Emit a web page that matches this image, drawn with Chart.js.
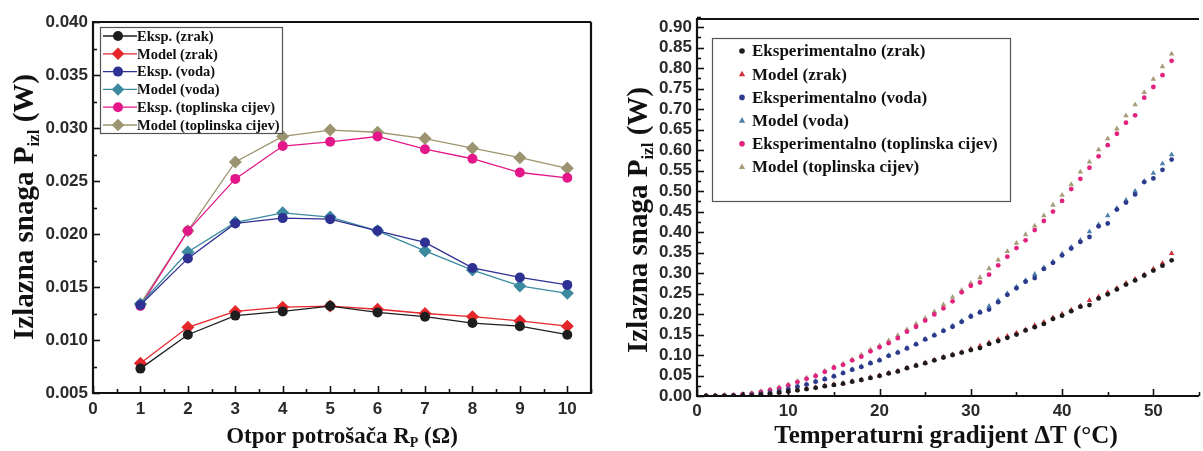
<!DOCTYPE html>
<html>
<head>
<meta charset="utf-8">
<script src="https://cdn.jsdelivr.net/npm/chart.js@4.4.1/dist/chart.umd.min.js"></script>
<style>
  body { margin: 0; background: #fff; overflow: hidden; }
  #left { position: absolute; left: 0; top: 0; }
  #right { position: absolute; left: 600px; top: 0; }
</style>
</head>
<body>
<canvas id="left" width="600" height="451"></canvas>
<canvas id="right" width="603" height="451"></canvas>
<script>
// Left chart: output power vs load resistance
const rp = [1, 2, 3, 4, 5, 6, 7, 8, 9, 10];
const ekspZrak = [0.0073, 0.0105, 0.0123, 0.0127, 0.0132, 0.0126, 0.0122, 0.0116, 0.0113, 0.0105];
const modelZrak = [0.0078, 0.0112, 0.0127, 0.0131, 0.0132, 0.0129, 0.0125, 0.0122, 0.0118, 0.0113];
const ekspVoda = [0.0133, 0.0177, 0.0210, 0.0215, 0.0214, 0.0203, 0.0192, 0.0168, 0.0159, 0.0152];
const modelVoda = [0.0134, 0.0183, 0.0211, 0.0220, 0.0216, 0.0203, 0.0184, 0.0166, 0.0151, 0.0144];
const ekspTopl = [0.0132, 0.0203, 0.0252, 0.0283, 0.0287, 0.0292, 0.0280, 0.0271, 0.0258, 0.0253];
const modelTopl = [0.0134, 0.0203, 0.0268, 0.0292, 0.0298, 0.0296, 0.0290, 0.0281, 0.0272, 0.0262];
const leftXTicks = [0, 1, 2, 3, 4, 5, 6, 7, 8, 9, 10];
const leftYTicks = [0.005, 0.010, 0.015, 0.020, 0.025, 0.030, 0.035, 0.040];

// Right chart: output power vs temperature gradient
const dT = [1, 2, 3, 4, 5, 6, 7, 8, 9, 10, 11, 12, 13, 14, 15, 16, 17, 18, 19, 20, 21, 22, 23, 24, 25, 26,
            27, 28, 29, 30, 31, 32, 33, 34, 35, 36, 37, 38, 39, 40, 41, 42, 43, 44, 45, 46, 47, 48, 49, 50, 51, 52];
const ekspZrakT = [0, 0, 0, 0, 0, 0.001, 0.003, 0.005, 0.008, 0.011, 0.014, 0.017, 0.020, 0.024, 0.027, 0.030, 0.035,
  0.039, 0.044, 0.049, 0.055, 0.060, 0.068, 0.074, 0.080, 0.087, 0.094, 0.100, 0.106, 0.112, 0.117, 0.127, 0.134,
  0.142, 0.150, 0.160, 0.168, 0.176, 0.188, 0.196, 0.207, 0.218, 0.222, 0.238, 0.248, 0.260, 0.272, 0.282, 0.294,
  0.306, 0.318, 0.331];
const modelZrakT = [0, 0, 0, 0, 0.001, 0.002, 0.004, 0.006, 0.009, 0.012, 0.015, 0.018, 0.021, 0.025, 0.028, 0.031,
  0.036, 0.040, 0.045, 0.050, 0.056, 0.061, 0.069, 0.075, 0.081, 0.088, 0.095, 0.101, 0.107, 0.115, 0.122, 0.130,
  0.138, 0.146, 0.154, 0.162, 0.172, 0.180, 0.191, 0.200, 0.210, 0.220, 0.233, 0.242, 0.253, 0.263, 0.275, 0.285,
  0.296, 0.310, 0.324, 0.348];
const ekspVodaT = [0, 0, 0, 0.001, 0.001, 0.003, 0.005, 0.008, 0.012, 0.017, 0.023, 0.028, 0.035, 0.041, 0.048, 0.056,
  0.064, 0.071, 0.080, 0.087, 0.098, 0.106, 0.116, 0.126, 0.138, 0.148, 0.159, 0.169, 0.181, 0.194, 0.204, 0.211,
  0.229, 0.247, 0.263, 0.279, 0.288, 0.310, 0.325, 0.343, 0.360, 0.376, 0.388, 0.414, 0.421, 0.455, 0.472, 0.492,
  0.522, 0.531, 0.552, 0.577];
const modelVodaT = [0, 0, 0, 0.001, 0.002, 0.003, 0.006, 0.009, 0.013, 0.018, 0.024, 0.029, 0.036, 0.042, 0.049, 0.057,
  0.065, 0.072, 0.081, 0.088, 0.099, 0.107, 0.117, 0.127, 0.139, 0.149, 0.160, 0.171, 0.183, 0.196, 0.206, 0.219,
  0.233, 0.250, 0.266, 0.282, 0.297, 0.313, 0.328, 0.347, 0.363, 0.380, 0.401, 0.418, 0.440, 0.458, 0.478, 0.500,
  0.524, 0.544, 0.567, 0.589];
const ekspToplT = [0, 0, 0.001, 0.002, 0.004, 0.006, 0.010, 0.014, 0.019, 0.026, 0.034, 0.042, 0.049, 0.059, 0.069,
  0.076, 0.087, 0.096, 0.109, 0.119, 0.129, 0.141, 0.157, 0.169, 0.184, 0.199, 0.214, 0.231, 0.253, 0.269, 0.277,
  0.296, 0.319, 0.340, 0.361, 0.380, 0.405, 0.427, 0.450, 0.476, 0.505, 0.530, 0.557, 0.585, 0.612, 0.640, 0.667,
  0.685, 0.728, 0.754, 0.783, 0.818];
const modelToplT = [0, 0.001, 0.002, 0.003, 0.005, 0.007, 0.011, 0.016, 0.021, 0.028, 0.036, 0.044, 0.050, 0.061, 0.071,
  0.079, 0.089, 0.100, 0.113, 0.123, 0.135, 0.148, 0.162, 0.176, 0.190, 0.206, 0.223, 0.241, 0.258, 0.275, 0.289,
  0.311, 0.332, 0.353, 0.373, 0.394, 0.415, 0.440, 0.466, 0.490, 0.516, 0.547, 0.571, 0.601, 0.628, 0.652, 0.684,
  0.711, 0.741, 0.773, 0.804, 0.835];
const rightXTicks = [0, 10, 20, 30, 40, 50];
const rightYTicks = [0, 0.05, 0.10, 0.15, 0.20, 0.25, 0.30, 0.35, 0.40, 0.45, 0.50, 0.55, 0.60, 0.65, 0.70, 0.75,
  0.80, 0.85, 0.90];

const tickFont = { family: "'Liberation Sans', Arial, sans-serif", weight: 'bold', size: 17 };
const serif = "'Liberation Serif', 'Times New Roman', serif";

function pts(xs, ys) {
  return xs.map((x, i) => ({ x: x, y: ys[i] }));
}

function marker(ctx, style, x, y, r, color) {
  ctx.fillStyle = color;
  ctx.beginPath();
  if (style === 'rectRot') {
    ctx.moveTo(x, y - r); ctx.lineTo(x + r, y); ctx.lineTo(x, y + r); ctx.lineTo(x - r, y);
  } else if (style === 'triangle') {
    ctx.moveTo(x, y - r); ctx.lineTo(x + r * 0.9, y + r * 0.6); ctx.lineTo(x - r * 0.9, y + r * 0.6);
  } else {
    ctx.arc(x, y, r, 0, Math.PI * 2);
  }
  ctx.closePath();
  ctx.fill();
}

// frame around the plot + inward major/minor ticks
const frameTicks = {
  id: 'frameTicks',
  afterDraw(chart, args, o) {
    const { ctx, chartArea: a, scales: { x, y } } = chart;
    ctx.save();
    ctx.strokeStyle = '#111';
    ctx.lineWidth = 1.6;
    const axis = (sc, minor, major, vertical) => {
      const n = Math.round((sc.max - sc.min) / minor);
      for (let i = 0; i <= n; i++) {
        const v = sc.min + i * minor;
        const isMajor = Math.abs(v / major - Math.round(v / major)) < 1e-6;
        const len = isMajor ? 7 : 4;
        const p = Math.round(sc.getPixelForValue(v)) + 0.5;
        ctx.beginPath();
        if (vertical) { ctx.moveTo(a.left, p); ctx.lineTo(a.left + len, p); }
        else { ctx.moveTo(p, a.bottom); ctx.lineTo(p, a.bottom - len); }
        ctx.stroke();
      }
    };
    axis(x, o.xMinor, o.xMajor, false);
    axis(y, o.yMinor, o.yMajor, true);
    ctx.lineWidth = 2.2;
    ctx.strokeStyle = '#111';
    ctx.beginPath();
    ctx.moveTo(a.right, a.top);
    ctx.lineTo(a.left, a.top);
    ctx.lineTo(a.left, a.bottom);
    ctx.lineTo(a.right, a.bottom);
    if (o.closeRight) ctx.lineTo(a.right, a.top);
    ctx.stroke();
    ctx.restore();
  }
};

// legend box drawn inside the plot area
const boxLegend = {
  id: 'boxLegend',
  afterDraw(chart, args, o) {
    const ctx = chart.ctx;
    ctx.save();
    ctx.fillStyle = '#fff';
    ctx.fillRect(o.x, o.y, o.w, o.h);
    ctx.strokeStyle = '#555';
    ctx.lineWidth = 1.2;
    ctx.strokeRect(o.x + 0.5, o.y + 0.5, o.w, o.h);
    ctx.font = 'bold ' + o.size + 'px ' + serif;
    ctx.textBaseline = 'middle';
    chart.data.datasets.forEach((ds, i) => {
      const cy = o.y + o.first + i * o.row;
      if (o.lineLen) {
        ctx.strokeStyle = ds.borderColor;
        ctx.lineWidth = 1.3;
        ctx.beginPath();
        ctx.moveTo(o.x + 3, cy);
        ctx.lineTo(o.x + 3 + o.lineLen, cy);
        ctx.stroke();
      }
      marker(ctx, ds.pointStyle, o.x + o.mark, cy, o.markR * (ds.pointStyle === 'circle' ? 1 : 1.25), ds.backgroundColor);
      ctx.fillStyle = '#111';
      ctx.fillText(ds.label, o.x + o.text, cy + 1);
    });
    ctx.restore();
  }
};

// axis titles with subscripts
function richText(ctx, parts, cx, cy, rot, size) {
  ctx.save();
  ctx.translate(cx, cy);
  ctx.rotate(rot);
  ctx.textBaseline = 'middle';
  ctx.fillStyle = '#111';
  const fonts = parts.map(p => 'bold ' + (p.sub ? Math.round(size * 0.6) : size) + 'px ' + serif);
  let total = 0;
  parts.forEach((p, i) => { ctx.font = fonts[i]; total += ctx.measureText(p.t).width; });
  let xx = -total / 2;
  parts.forEach((p, i) => {
    ctx.font = fonts[i];
    ctx.fillText(p.t, xx, p.sub ? size * 0.28 : 0);
    xx += ctx.measureText(p.t).width;
  });
  ctx.restore();
}

const axisTitles = {
  id: 'axisTitles',
  afterDraw(chart, args, o) {
    richText(chart.ctx, o.x.parts, o.x.cx, o.x.cy, 0, o.x.size);
    richText(chart.ctx, o.y.parts, o.y.cx, o.y.cy, -Math.PI / 2, o.y.size);
  }
};

function lineSet(label, data, color, style) {
  return {
    label: label, data: pts(rp, data), showLine: true,
    borderColor: color, backgroundColor: color, borderWidth: 1.3,
    pointStyle: style, pointRadius: style === 'circle' ? 5 : 6.5,
    pointBorderWidth: 0
  };
}

function dotSet(label, data, color, style) {
  return {
    label: label, data: pts(dT, data), showLine: false,
    borderColor: color, backgroundColor: color,
    pointStyle: style, pointRadius: style === 'circle' ? 2.4 : 3.2,
    pointBorderWidth: 0
  };
}

const powerTitle = [{ t: 'Izlazna snaga P' }, { t: 'izl', sub: true }, { t: ' (W)' }];
const noGrid = { display: false, drawTicks: false };

new Chart(document.getElementById('left'), {
  type: 'scatter',
  data: {
    datasets: [
      lineSet('Eksp. (zrak)', ekspZrak, '#1e1e1e', 'circle'),
      lineSet('Model (zrak)', modelZrak, '#e5262b', 'rectRot'),
      lineSet('Eksp. (voda)', ekspVoda, '#2e3192', 'circle'),
      lineSet('Model (voda)', modelVoda, '#3b8a9f', 'rectRot'),
      lineSet('Eksp. (toplinska cijev)', ekspTopl, '#e4178a', 'circle'),
      lineSet('Model (toplinska cijev)', modelTopl, '#9c9470', 'rectRot')
    ]
  },
  options: {
    responsive: false,
    animation: false,
    layout: { padding: { left: 0, top: 22, right: 9, bottom: 0 } },
    plugins: {
      legend: { display: false },
      tooltip: { enabled: false },
      frameTicks: { xMinor: 0.5, xMajor: 1, yMinor: 0.0025, yMajor: 0.005, closeRight: true },
      boxLegend: { x: 100, y: 27, w: 182, h: 106, first: 9, row: 17.8, size: 14.5, lineLen: 34, mark: 18, markR: 5, text: 37 },
      axisTitles: {
        x: { parts: [{ t: 'Otpor potrošača R' }, { t: 'P', sub: true }, { t: ' (Ω)' }], cx: 342, cy: 437, size: 23 },
        y: { parts: powerTitle, cx: 26, cy: 207, size: 29 }
      }
    },
    scales: {
      x: {
        type: 'linear', min: 0, max: 10.5,
        afterBuildTicks: s => { s.ticks = leftXTicks.map(v => ({ value: v })); },
        afterFit: s => { s.height = 58; },
        grid: noGrid, border: { display: false },
        ticks: { font: tickFont, color: '#2a2a2a', padding: 6, autoSkip: false, maxRotation: 0, callback: v => String(v) }
      },
      y: {
        min: 0.005, max: 0.040,
        afterBuildTicks: s => { s.ticks = leftYTicks.map(v => ({ value: v })); },
        afterFit: s => { s.width = 93; },
        grid: noGrid, border: { display: false },
        ticks: { font: tickFont, color: '#2a2a2a', padding: 5, autoSkip: false, callback: v => v.toFixed(3) }
      }
    }
  },
  plugins: [frameTicks, boxLegend, axisTitles]
});

new Chart(document.getElementById('right'), {
  type: 'scatter',
  data: {
    datasets: [
      dotSet('Eksperimentalno (zrak)', ekspZrakT, '#1c1c1c', 'circle'),
      dotSet('Model (zrak)', modelZrakT, '#cf333b', 'triangle'),
      dotSet('Eksperimentalno (voda)', ekspVodaT, '#2d3a8c', 'circle'),
      dotSet('Model (voda)', modelVodaT, '#4d80ad', 'triangle'),
      dotSet('Eksperimentalno (toplinska cijev)', ekspToplT, '#e2227f', 'circle'),
      dotSet('Model (toplinska cijev)', modelToplT, '#a69c78', 'triangle')
    ]
  },
  options: {
    responsive: false,
    animation: false,
    layout: { padding: { left: 0, top: 19, right: 2, bottom: 0 } },
    plugins: {
      legend: { display: false },
      tooltip: { enabled: false },
      frameTicks: { xMinor: 5, xMajor: 10, yMinor: 0.025, yMajor: 0.05, closeRight: false },
      boxLegend: { x: 112, y: 38, w: 298, h: 163, first: 13, row: 23.2, size: 17, lineLen: 0, mark: 30, markR: 2.8, text: 40 },
      axisTitles: {
        x: { parts: [{ t: 'Temperaturni gradijent ΔT (°C)' }], cx: 346, cy: 437, size: 25 },
        y: { parts: powerTitle, cx: 40, cy: 220, size: 29 }
      }
    },
    scales: {
      x: {
        type: 'linear', min: 0, max: 55,
        afterBuildTicks: s => { s.ticks = rightXTicks.map(v => ({ value: v })); },
        afterFit: s => { s.height = 55; },
        grid: noGrid, border: { display: false },
        ticks: { font: tickFont, color: '#2a2a2a', padding: 5, autoSkip: false, maxRotation: 0, callback: v => String(v) }
      },
      y: {
        min: 0, max: 0.92,
        afterBuildTicks: s => { s.ticks = rightYTicks.map(v => ({ value: v })); },
        afterFit: s => { s.width = 97; },
        grid: noGrid, border: { display: false },
        ticks: { font: tickFont, color: '#2a2a2a', padding: 5, autoSkip: false, callback: v => v.toFixed(2) }
      }
    }
  },
  plugins: [frameTicks, boxLegend, axisTitles]
});
</script>
</body>
</html>
